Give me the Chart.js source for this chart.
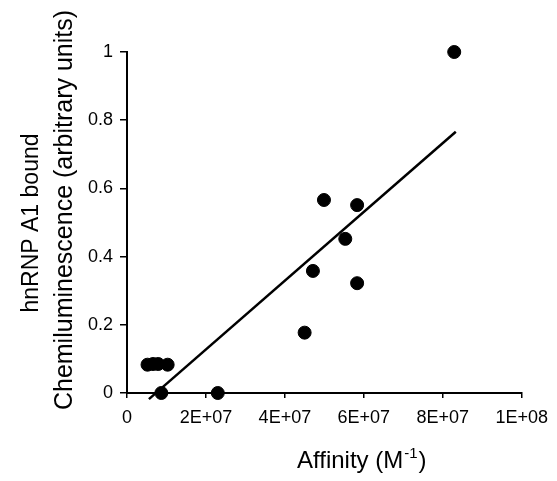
<!DOCTYPE html>
<html><head><meta charset="utf-8">
<script src="https://cdn.jsdelivr.net/npm/chart.js@4/dist/chart.umd.min.js"></script>
<style>html,body{margin:0;padding:0;background:#fff}#wrap{width:557px;height:481px}</style>
</head><body><div id="wrap"><canvas id="c" width="557" height="481"></canvas></div>
<script>
const affinity = [5.2e6, 6.6e6, 7.9e6, 1.03e7, 8.7e6, 2.3e7, 4.5e7, 4.71e7, 4.99e7, 5.53e7, 5.83e7, 5.83e7, 8.29e7];
const chemiluminescence = [0.083, 0.085, 0.085, 0.083, 0.0, 0.0, 0.177, 0.358, 0.566, 0.452, 0.551, 0.322, 1.0];
const trendX = [5.55e6, 8.33e7];
const trendY = [-0.018, 0.766];
const xTicks = [0, 2e7, 4e7, 6e7, 8e7, 1e8];
const xTickLabels = ['0', '2E+07', '4E+07', '6E+07', '8E+07', '1E+08'];
const yTicks = [0, 0.2, 0.4, 0.6, 0.8, 1];
const yTickLabels = ['0', '0.2', '0.4', '0.6', '0.8', '1'];
const yTitleLines = ['hnRNP A1 bound', 'Chemiluminescence (arbitrary units)'];
const xTitleMain = 'Affinity (M';
const xTitleSup = '-1';
const xTitleEnd = ')';

const font = "'Liberation Sans', Arial, sans-serif";
Chart.defaults.font.family = font;
Chart.defaults.color = '#000';

const titles = {
  id: 'titles',
  afterDraw(chart) {
    const ctx = chart.ctx;
    ctx.save();
    ctx.fillStyle = '#000';
    ctx.textBaseline = 'alphabetic';
    ctx.textAlign = 'center';
    // y title, two rotated lines
    ctx.font = '23px ' + font;
    ctx.save(); ctx.translate(38, 223); ctx.rotate(-Math.PI / 2); ctx.fillText(yTitleLines[0], 0, 0); ctx.restore();
    ctx.font = '25px ' + font;
    ctx.save(); ctx.translate(72, 210); ctx.rotate(-Math.PI / 2); ctx.fillText(yTitleLines[1], 0, 0); ctx.restore();
    // x title with superscript
    ctx.textAlign = 'left';
    let x = 297, y = 468;
    ctx.font = '24px ' + font;
    ctx.fillText(xTitleMain, x, y); x += ctx.measureText(xTitleMain).width + 1;
    ctx.font = '15px ' + font;
    ctx.fillText(xTitleSup, x, y - 10); x += ctx.measureText(xTitleSup).width + 1;
    ctx.font = '24px ' + font;
    ctx.fillText(xTitleEnd, x, y);
    ctx.restore();
  }
};

new Chart(document.getElementById('c'), {
  type: 'scatter',
  plugins: [titles],
  data: {
    datasets: [
      {
        type: 'line',
        data: trendX.map((x, i) => ({x, y: trendY[i]})),
        borderColor: '#000', borderWidth: 2.5, pointRadius: 0, fill: false, clip: false, order: 2
      },
      {
        data: affinity.map((x, i) => ({x, y: chemiluminescence[i]})),
        backgroundColor: '#000', borderColor: '#000', pointRadius: 6.5, pointHoverRadius: 6.5, clip: false, order: 1
      }
    ]
  },
  options: {
    responsive: false, animation: false,
    layout: {padding: {top: 52, right: 34, left: 0, bottom: 0}},
    plugins: {legend: {display: false}, tooltip: {enabled: false}},
    scales: {
      x: {
        type: 'linear', min: 0, max: 1e8,
        afterBuildTicks: s => { s.ticks = xTicks.map(v => ({value: v})); },
        afterFit: s => { s.height = 88; },
        ticks: {callback: (v) => xTickLabels[xTicks.indexOf(v)], font: {size: 18, family: font}, color: '#000', padding: 9, maxRotation: 0, autoSkip: false},
        grid: {drawOnChartArea: false, drawTicks: true, tickLength: 5, color: '#000', lineWidth: 1.5},
        border: {display: true, color: '#000', width: 2},
        title: {display: false}
      },
      y: {
        type: 'linear', min: 0, max: 1,
        afterBuildTicks: s => { s.ticks = yTicks.map(v => ({value: v})); },
        afterFit: s => { s.width = 127; },
        ticks: {callback: (v) => yTickLabels[yTicks.findIndex(t => Math.abs(t - v) < 1e-9)], font: {size: 18, family: font}, color: '#000', padding: 7, autoSkip: false},
        grid: {drawOnChartArea: false, drawTicks: true, tickLength: 7, color: '#000', lineWidth: 1.5},
        border: {display: true, color: '#000', width: 2},
        title: {display: false}
      }
    }
  }
});
</script></body></html>
